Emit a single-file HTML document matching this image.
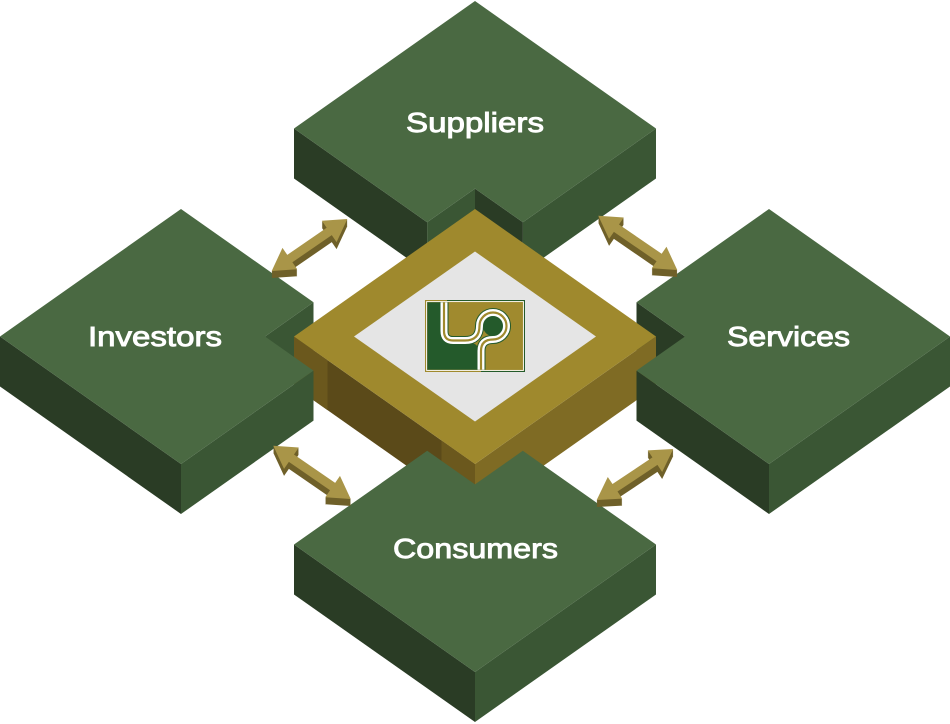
<!DOCTYPE html>
<html>
<head>
<meta charset="utf-8">
<style>
  html,body{margin:0;padding:0;background:#ffffff;}
  svg{display:block;}
  .lbl{font-family:"Liberation Sans",Arial,sans-serif;font-size:28px;fill:#ffffff;stroke:#ffffff;stroke-width:0.9px;}
</style>
</head>
<body>
<svg width="950" height="724" viewBox="0 0 950 724" xmlns="http://www.w3.org/2000/svg">
  <defs>
    <clipPath id="logoclip"><rect x="427.3" y="302.3" width="95.4" height="67.4"/></clipPath>
  </defs>

  <!-- Suppliers -->
  <polygon points="294,128.5 427.1,222.3 427.1,272.3 294,178.5" fill="#2a3c25"/>
  <polygon points="522.9,222.3 656,128.5 656,178.5 522.9,272.3" fill="#3a5634"/>
  <polygon points="427.1,222.3 475,188.6 475,238.6 427.1,272.3" fill="#3a5634"/>
  <polygon points="475,188.6 522.9,222.3 522.9,272.3 475,238.6" fill="#2a3c25"/>
  <polygon points="475,1 656,128.5 522.9,222.3 475,188.6 427.1,222.3 294,128.5" fill="#4a6942"/>

  <!-- notch walls of Investors / Services -->
  <polygon points="265,336.5 313.5,302.3 313.5,352.3 265,386.5" fill="#3a5634"/>
  <polygon points="685,336.5 636.5,302.3 636.5,352.3 685,386.5" fill="#2a3c25"/>

  <!-- Gold center block -->
  <polygon points="294,336.5 475,464 475,514 294,386.5" fill="#5b4a19"/>
  <polygon points="294,336.5 327.5,360.1 327.5,410.1 294,386.5" fill="#6b581d"/>
  <polygon points="441.5,440.4 475,464 475,514 441.5,490.4" fill="#6b581d"/>
  <polygon points="475,464 656,336.5 656,386.5 475,514" fill="#7f6b24"/>
  <polygon points="475,209 656,336.5 475,464 294,336.5" fill="#9f892d"/>
  <polygon points="475,251.5 596,336.5 475,421.5 354,336.5" fill="#e5e5e5"/>

  <!-- Logo -->
  <rect x="425" y="300" width="100" height="72" fill="#a08a2e"/>
  <g clip-path="url(#logoclip)">
    <path d="M427,302 H441 V330 Q441,343 454,343 H470 Q478,343 478,350 V373 H427 Z" fill="#245a2b"/>
    <circle cx="493" cy="326" r="10" fill="#245a2b"/>
    <path d="M444,299 V331 Q444,340.5 453,340.5 H465 Q479.5,340.5 479.5,326 A13.5,13.5 0 1 1 493,339.5 Q481,339.5 481,351 V375" fill="none" stroke="#245a2b" stroke-width="9"/>
    <path d="M444,299 V331 Q444,340.5 453,340.5 H465 Q479.5,340.5 479.5,326 A13.5,13.5 0 1 1 493,339.5 Q481,339.5 481,351 V375" fill="none" stroke="#ffffff" stroke-width="7"/>
    <path d="M444,299 V331 Q444,340.5 453,340.5 H465 Q479.5,340.5 479.5,326 A13.5,13.5 0 1 1 493,339.5 Q481,339.5 481,351 V375" fill="none" stroke="#a08a2e" stroke-width="2.2"/>
  </g>
  <rect x="425.5" y="300.5" width="99" height="71" fill="none" stroke="#a08a2e" stroke-width="1"/>
  <path d="M447,300.5 H524.5 V371.5 H481" fill="none" stroke="#245a2b" stroke-width="1"/>
  <rect x="426.6" y="301.6" width="96.8" height="68.8" fill="none" stroke="#ffffff" stroke-width="0.9"/>

  <!-- Investors -->
  <polygon points="0,336.5 181,464 181,514 0,386.5" fill="#2a3c25"/>
  <polygon points="181,464 313.5,370.6 313.5,420.6 181,514" fill="#3a5634"/>
  <polygon points="181,209 313.5,302.3 265,336.5 313.5,370.6 181,464 0,336.5" fill="#4a6942"/>

  <!-- Services -->
  <polygon points="636.5,370.6 769,464 769,514 636.5,420.6" fill="#2a3c25"/>
  <polygon points="769,464 950,336.5 950,386.5 769,514" fill="#3a5634"/>
  <polygon points="769,209 950,336.5 769,464 636.5,370.6 685,336.5 636.5,302.3" fill="#4a6942"/>

  <!-- Consumers -->
  <polygon points="294,544.5 475,672 475,722 294,594.5" fill="#2a3c25"/>
  <polygon points="475,672 656,544.5 656,594.5 475,722" fill="#3a5634"/>
  <polygon points="294,544.5 427.2,450.8 475,484.4 522.8,450.8 656,544.5 475,672" fill="#4a6942"/>

  <!-- Arrows -->
  <!-- Arrow 1 (upper-left) -->
  <g fill="#6f6029">
    <g transform="translate(0,1)"><polygon transform="translate(271.7,271) rotate(-34.5)" points="0,0 22,-13 22,-4.5 69.8,-4.5 69.8,-13 91.8,0 69.8,13 69.8,4.5 22,4.5 22,13"/></g>
    <g transform="translate(0,2)"><polygon transform="translate(271.7,271) rotate(-34.5)" points="0,0 22,-13 22,-4.5 69.8,-4.5 69.8,-13 91.8,0 69.8,13 69.8,4.5 22,4.5 22,13"/></g>
    <g transform="translate(0,3)"><polygon transform="translate(271.7,271) rotate(-34.5)" points="0,0 22,-13 22,-4.5 69.8,-4.5 69.8,-13 91.8,0 69.8,13 69.8,4.5 22,4.5 22,13"/></g>
    <g transform="translate(0,4)"><polygon transform="translate(271.7,271) rotate(-34.5)" points="0,0 22,-13 22,-4.5 69.8,-4.5 69.8,-13 91.8,0 69.8,13 69.8,4.5 22,4.5 22,13"/></g>
    <g transform="translate(0,5)"><polygon transform="translate(271.7,271) rotate(-34.5)" points="0,0 22,-13 22,-4.5 69.8,-4.5 69.8,-13 91.8,0 69.8,13 69.8,4.5 22,4.5 22,13"/></g>
    <g transform="translate(0,6)"><polygon transform="translate(271.7,271) rotate(-34.5)" points="0,0 22,-13 22,-4.5 69.8,-4.5 69.8,-13 91.8,0 69.8,13 69.8,4.5 22,4.5 22,13"/></g>
    <g transform="translate(0,7)"><polygon transform="translate(271.7,271) rotate(-34.5)" points="0,0 22,-13 22,-4.5 69.8,-4.5 69.8,-13 91.8,0 69.8,13 69.8,4.5 22,4.5 22,13"/></g>
  </g>
  <polygon transform="translate(271.7,271) rotate(-34.5)" points="0,0 22,-13 22,-4.5 69.8,-4.5 69.8,-13 91.8,0 69.8,13 69.8,4.5 22,4.5 22,13" fill="#a99548"/>

  <!-- Arrow 2 (upper-right) -->
  <g fill="#6f6029">
    <g transform="translate(0,1)"><polygon transform="translate(598.3,215.7) rotate(34.5)" points="0,0 22,-13 22,-4.5 73.8,-4.5 73.8,-13 95.8,0 73.8,13 73.8,4.5 22,4.5 22,13"/></g>
    <g transform="translate(0,2)"><polygon transform="translate(598.3,215.7) rotate(34.5)" points="0,0 22,-13 22,-4.5 73.8,-4.5 73.8,-13 95.8,0 73.8,13 73.8,4.5 22,4.5 22,13"/></g>
    <g transform="translate(0,3)"><polygon transform="translate(598.3,215.7) rotate(34.5)" points="0,0 22,-13 22,-4.5 73.8,-4.5 73.8,-13 95.8,0 73.8,13 73.8,4.5 22,4.5 22,13"/></g>
    <g transform="translate(0,4)"><polygon transform="translate(598.3,215.7) rotate(34.5)" points="0,0 22,-13 22,-4.5 73.8,-4.5 73.8,-13 95.8,0 73.8,13 73.8,4.5 22,4.5 22,13"/></g>
    <g transform="translate(0,5)"><polygon transform="translate(598.3,215.7) rotate(34.5)" points="0,0 22,-13 22,-4.5 73.8,-4.5 73.8,-13 95.8,0 73.8,13 73.8,4.5 22,4.5 22,13"/></g>
    <g transform="translate(0,6)"><polygon transform="translate(598.3,215.7) rotate(34.5)" points="0,0 22,-13 22,-4.5 73.8,-4.5 73.8,-13 95.8,0 73.8,13 73.8,4.5 22,4.5 22,13"/></g>
    <g transform="translate(0,7)"><polygon transform="translate(598.3,215.7) rotate(34.5)" points="0,0 22,-13 22,-4.5 73.8,-4.5 73.8,-13 95.8,0 73.8,13 73.8,4.5 22,4.5 22,13"/></g>
  </g>
  <polygon transform="translate(598.3,215.7) rotate(34.5)" points="0,0 22,-13 22,-4.5 73.8,-4.5 73.8,-13 95.8,0 73.8,13 73.8,4.5 22,4.5 22,13" fill="#a99548"/>

  <!-- Arrow 3 (lower-left) -->
  <g fill="#6f6029">
    <g transform="translate(0,1)"><polygon transform="translate(273.3,445.7) rotate(34.55)" points="0,0 22,-13 22,-4.5 72,-4.5 72,-13 94,0 72,13 72,4.5 22,4.5 22,13"/></g>
    <g transform="translate(0,2)"><polygon transform="translate(273.3,445.7) rotate(34.55)" points="0,0 22,-13 22,-4.5 72,-4.5 72,-13 94,0 72,13 72,4.5 22,4.5 22,13"/></g>
    <g transform="translate(0,3)"><polygon transform="translate(273.3,445.7) rotate(34.55)" points="0,0 22,-13 22,-4.5 72,-4.5 72,-13 94,0 72,13 72,4.5 22,4.5 22,13"/></g>
    <g transform="translate(0,4)"><polygon transform="translate(273.3,445.7) rotate(34.55)" points="0,0 22,-13 22,-4.5 72,-4.5 72,-13 94,0 72,13 72,4.5 22,4.5 22,13"/></g>
    <g transform="translate(0,5)"><polygon transform="translate(273.3,445.7) rotate(34.55)" points="0,0 22,-13 22,-4.5 72,-4.5 72,-13 94,0 72,13 72,4.5 22,4.5 22,13"/></g>
    <g transform="translate(0,6)"><polygon transform="translate(273.3,445.7) rotate(34.55)" points="0,0 22,-13 22,-4.5 72,-4.5 72,-13 94,0 72,13 72,4.5 22,4.5 22,13"/></g>
    <g transform="translate(0,7)"><polygon transform="translate(273.3,445.7) rotate(34.55)" points="0,0 22,-13 22,-4.5 72,-4.5 72,-13 94,0 72,13 72,4.5 22,4.5 22,13"/></g>
  </g>
  <polygon transform="translate(273.3,445.7) rotate(34.55)" points="0,0 22,-13 22,-4.5 72,-4.5 72,-13 94,0 72,13 72,4.5 22,4.5 22,13" fill="#a99548"/>

  <!-- Arrow 4 (lower-right) -->
  <g fill="#6f6029">
    <g transform="translate(0,1)"><polygon transform="translate(596.7,500) rotate(-33.7)" points="0,0 22,-13 22,-4.5 70,-4.5 70,-13 92,0 70,13 70,4.5 22,4.5 22,13"/></g>
    <g transform="translate(0,2)"><polygon transform="translate(596.7,500) rotate(-33.7)" points="0,0 22,-13 22,-4.5 70,-4.5 70,-13 92,0 70,13 70,4.5 22,4.5 22,13"/></g>
    <g transform="translate(0,3)"><polygon transform="translate(596.7,500) rotate(-33.7)" points="0,0 22,-13 22,-4.5 70,-4.5 70,-13 92,0 70,13 70,4.5 22,4.5 22,13"/></g>
    <g transform="translate(0,4)"><polygon transform="translate(596.7,500) rotate(-33.7)" points="0,0 22,-13 22,-4.5 70,-4.5 70,-13 92,0 70,13 70,4.5 22,4.5 22,13"/></g>
    <g transform="translate(0,5)"><polygon transform="translate(596.7,500) rotate(-33.7)" points="0,0 22,-13 22,-4.5 70,-4.5 70,-13 92,0 70,13 70,4.5 22,4.5 22,13"/></g>
    <g transform="translate(0,6)"><polygon transform="translate(596.7,500) rotate(-33.7)" points="0,0 22,-13 22,-4.5 70,-4.5 70,-13 92,0 70,13 70,4.5 22,4.5 22,13"/></g>
    <g transform="translate(0,7)"><polygon transform="translate(596.7,500) rotate(-33.7)" points="0,0 22,-13 22,-4.5 70,-4.5 70,-13 92,0 70,13 70,4.5 22,4.5 22,13"/></g>
  </g>
  <polygon transform="translate(596.7,500) rotate(-33.7)" points="0,0 22,-13 22,-4.5 70,-4.5 70,-13 92,0 70,13 70,4.5 22,4.5 22,13" fill="#a99548"/>

  <!-- Labels -->
  <text class="lbl" x="475" y="132" text-anchor="middle" textLength="138" lengthAdjust="spacingAndGlyphs">Suppliers</text>
  <text class="lbl" x="155" y="346" text-anchor="middle" textLength="134" lengthAdjust="spacingAndGlyphs">Investors</text>
  <text class="lbl" x="788.5" y="346" text-anchor="middle" textLength="123" lengthAdjust="spacingAndGlyphs">Services</text>
  <text class="lbl" x="475.5" y="558" text-anchor="middle" textLength="165" lengthAdjust="spacingAndGlyphs">Consumers</text>
</svg>
</body>
</html>
